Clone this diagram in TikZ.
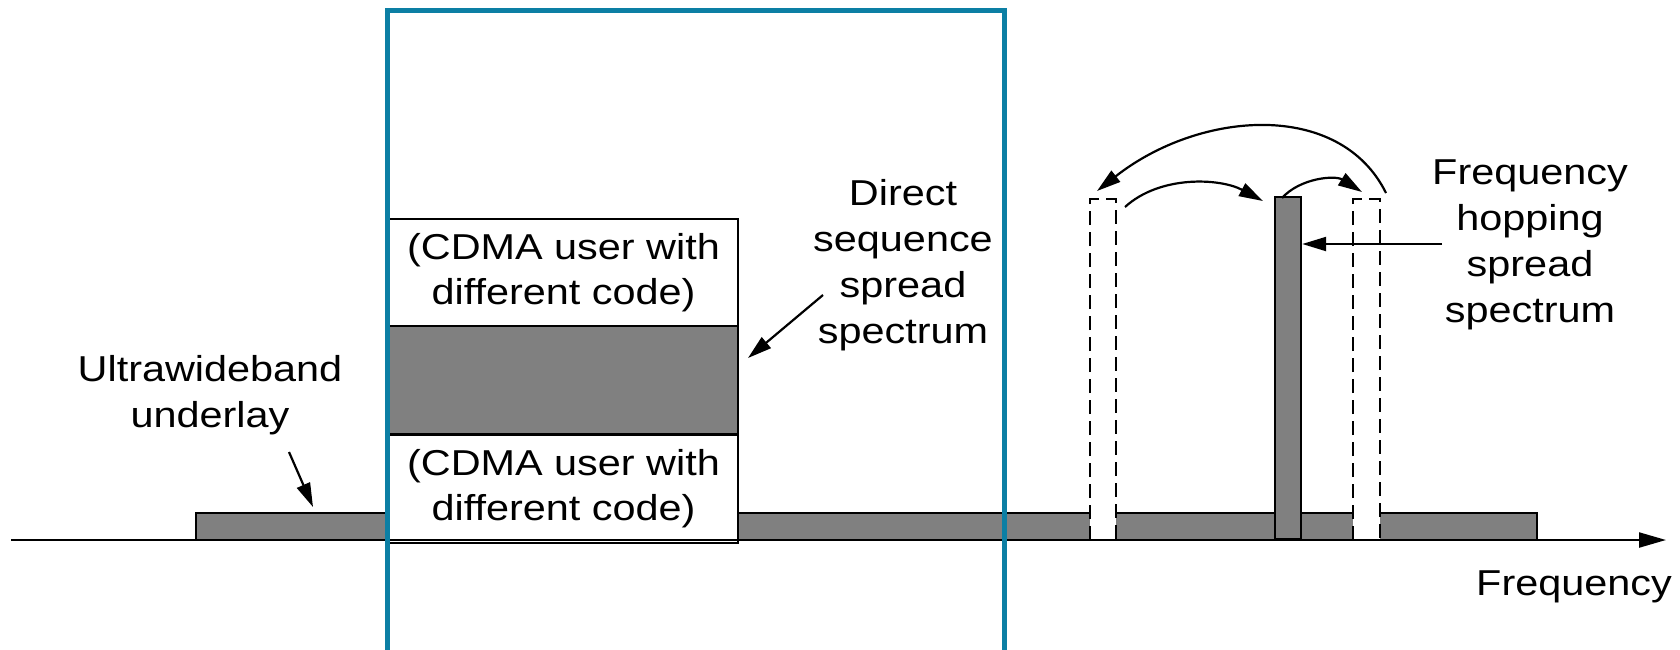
\documentclass[tikz,border=0pt]{standalone}
\usepackage{fontspec}
\setmainfont[FakeStretch=1.15]{Liberation Sans}
\usetikzlibrary{arrows.meta}
\definecolor{bluebox}{RGB}{12,127,164}
\definecolor{bandgray}{RGB}{128,128,128}
\begin{document}
\begin{tikzpicture}[x=1pt,y=-1pt,
  lbl/.style={font=\fontsize{36}{46}\selectfont, align=center, inner sep=0pt},
  blk/.style={draw=black, line width=2.2pt},
  band/.style={blk, fill=bandgray},
  cdma/.style={blk, fill=white, minimum width=349pt, minimum height=108pt, inner sep=0pt,
    font=\fontsize{36}{45}\selectfont, align=center},
  hopline/.style={draw=black, line width=2.2pt, dash pattern=on 14pt off 7pt},
  arr/.style={line width=2.2pt, -{Triangle[length=24pt,width=14pt]}},
  axisarr/.style={line width=2.2pt, -{Triangle[length=27pt,width=15pt]}},
]
\useasboundingbox (0,0) rectangle (1680,649);
\fill[white] (0,0) rectangle (1680,649);

% ultrawideband band
\fill[bandgray] (196,513) rectangle (1537,540);
\draw[blk] (196,540) -- (196,513) -- (1537,513) -- (1537,540);

% frequency hopping slots
\fill[white] (1090,199) rectangle (1116,541);
\draw[hopline] (1090,540) -- (1090,199) -- (1116,199) -- (1116,540);
\fill[white] (1353,199) rectangle (1380,541);
\draw[hopline] (1353,540) -- (1353,199) -- (1380,199) -- (1380,540);
\node[band, minimum width=26pt, minimum height=342pt, inner sep=0pt, anchor=south west] (bar) at (1274,540) {};

% CDMA boxes
\node[cdma] (cdmatop) at (563.5,273) {(CDMA user with\\different code)};
\node[band, minimum width=349pt, minimum height=108pt, inner sep=0pt] (dsss) at (563.5,380) {};
\node[cdma] (cdmabot) at (563.5,489) {(CDMA user with\\different code)};

% axis
\coordinate (axstart) at (11,540);
\coordinate (axend) at (1666,540);
\draw[axisarr] (axstart) -- (axend);
\node[lbl, anchor=base] (freq) at (1574,595) {Frequency};

% blue frame
\draw[bluebox, line width=5pt] (387.5,660) -- (387.5,10) -- (1004,10) -- (1004,660);

% labels (base = baseline of last line)
\node[lbl, anchor=base] (uwb) at (210,427) {Ultrawideband\\underlay};
\coordinate (uwbs) at (289,452);
\coordinate (uwbe) at (313,507);
\draw[arr] (uwbs) -- (uwbe);

\node[lbl, anchor=base] (dsl) at (903,343) {Direct\\sequence\\spread\\spectrum};
\coordinate (dss) at (823,295);
\coordinate (dse) at (748,358);
\draw[arr] (dss) -- (dse);

\node[lbl, anchor=base] (fhl) at (1530,322) {Frequency\\hopping\\spread\\spectrum};
\coordinate (fhs) at (1442,244);
\draw[arr] (fhs) -- (bar.east |- fhs);

% hop arrows
\coordinate (h1s) at (1125,207);
\coordinate (h1e) at (1263,201);
\draw[arr] (h1s) .. controls (1160,175) and (1220,178) .. (h1e);
\coordinate (h2s) at (1282,198);
\coordinate (h2e) at (1362,192);
\draw[arr] (h2s) .. controls (1300,178) and (1335,175) .. (h2e);
\coordinate (h3s) at (1386,193);
\coordinate (h3e) at (1097,191);
\draw[arr] (h3s) .. controls (1340,100) and (1200,110) .. (h3e);
\end{tikzpicture}
\end{document}
